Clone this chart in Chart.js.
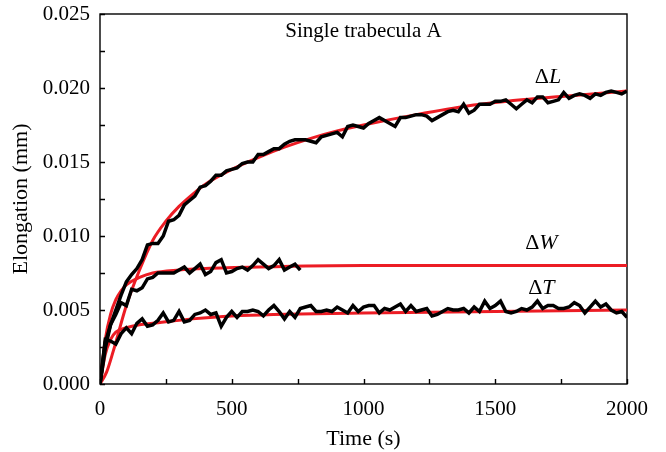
<!DOCTYPE html>
<html>
<head>
<meta charset="utf-8">
<script src="https://cdn.jsdelivr.net/npm/chart.js@4.4.0/dist/chart.umd.min.js"></script>
<style>
  html, body { margin: 0; padding: 0; background: #fff; }
</style>
</head>
<body>
<canvas id="chart" width="666" height="452"></canvas>
<script>
// recorded traces, one sample every 20 s starting at t = 0
const sampleStep = 20;
const lengthTrace = [
  0, 0.0024, 0.0040, 0.0050, 0.0060, 0.0069, 0.0074, 0.0078, 0.0084, 0.0094,
  0.0095, 0.0095, 0.0100, 0.0110, 0.0111, 0.0114, 0.0121, 0.0124, 0.0127, 0.0133,
  0.0134, 0.0137, 0.0141, 0.0141, 0.0144, 0.0145, 0.0146, 0.0149, 0.0150, 0.0150,
  0.0155, 0.0155, 0.0157, 0.0159, 0.0159, 0.0162, 0.0164, 0.0165, 0.0165, 0.0165,
  0.0164, 0.0163, 0.0167, 0.0168, 0.0169, 0.0170, 0.0167, 0.0174, 0.0175, 0.0174,
  0.0173, 0.0176, 0.0178, 0.0180, 0.0178, 0.0176, 0.0174, 0.0180, 0.0180, 0.0181,
  0.0182, 0.0182, 0.0181, 0.0178, 0.0180, 0.0182, 0.0184, 0.0185, 0.0184, 0.0189,
  0.0183, 0.0185, 0.0189, 0.0189, 0.0189, 0.0191, 0.0191, 0.0192, 0.0189, 0.0186,
  0.0189, 0.0192, 0.0190, 0.0194, 0.0194, 0.0190, 0.0191, 0.0192, 0.0197, 0.0193,
  0.0195, 0.0196, 0.0195, 0.0193, 0.0196, 0.0195, 0.0197, 0.0198, 0.0197, 0.0196,
  0.0198
];
const widthTrace = [
  0, 0.0028, 0.0040, 0.0047, 0.0055, 0.0053, 0.0064, 0.0063, 0.0065, 0.0071,
  0.0072, 0.0075, 0.0075, 0.0075, 0.0075, 0.0077, 0.0079, 0.0075, 0.0078, 0.0081,
  0.0074, 0.0076, 0.0082, 0.0084, 0.0075, 0.0076, 0.0078, 0.0079, 0.0077, 0.0080,
  0.0084, 0.0081, 0.0078, 0.0080, 0.0084, 0.0077, 0.0079, 0.0081, 0.0077
];
const thicknessTrace = [
  0, 0.0030, 0.0029, 0.0027, 0.0034, 0.0038, 0.0034, 0.0041, 0.0044, 0.0039,
  0.0040, 0.0043, 0.0048, 0.0042, 0.0043, 0.0049, 0.0042, 0.0043, 0.0047, 0.0048,
  0.0050, 0.0047, 0.0048, 0.0039, 0.0045, 0.0049, 0.0045, 0.0049, 0.0049, 0.0050,
  0.0049, 0.0046, 0.0050, 0.0053, 0.0049, 0.0044, 0.0049, 0.0045, 0.0051, 0.0052,
  0.0053, 0.0049, 0.0049, 0.0050, 0.0049, 0.0052, 0.0050, 0.0048, 0.0053, 0.0049,
  0.0052, 0.0053, 0.0053, 0.0048, 0.0051, 0.0050, 0.0052, 0.0054, 0.0049, 0.0053,
  0.0049, 0.0050, 0.0051, 0.0046, 0.0047, 0.0049, 0.0051, 0.0050, 0.0050, 0.0051,
  0.0048, 0.0052, 0.0049, 0.0056, 0.0051, 0.0053, 0.0056, 0.0049, 0.0048, 0.0049,
  0.0051, 0.0050, 0.0052, 0.0056, 0.0051, 0.0053, 0.0053, 0.0051, 0.0051, 0.0052,
  0.0055, 0.0053, 0.0048, 0.0052, 0.0056, 0.0052, 0.0054, 0.0050, 0.0048, 0.0049,
  0.0045
];

// fitted curves (red)
const lengthFitTime  = [0, 25, 50, 100, 150, 200, 250, 300, 350, 400, 500, 600, 700, 800, 900, 1000, 1200, 1400, 1600, 1800, 2000];
const lengthFitValue = [0, 0.0008, 0.0022, 0.0053, 0.0077, 0.0097, 0.0110, 0.0120, 0.0128, 0.0135, 0.0145, 0.0153, 0.0160, 0.0166, 0.0171, 0.0175, 0.0182, 0.0188, 0.0192, 0.0195, 0.0198];
const widthFitTime   = [0, 20, 40, 60, 80, 100, 150, 200, 300, 400, 600, 1000, 1500, 2000];
const widthFitValue  = [0, 0.0030, 0.0047, 0.0057, 0.0063, 0.0067, 0.0072, 0.0075, 0.0077, 0.0078, 0.0079, 0.0080, 0.0080, 0.0080];
const thickFitTime   = [0, 20, 40, 60, 100, 150, 200, 350, 500, 1000, 1500, 2000];
const thickFitValue  = [0, 0.0020, 0.0030, 0.0035, 0.0038, 0.0040, 0.0041, 0.0044, 0.0046, 0.0048, 0.0049, 0.0050];

// curve labels, placed in data units
const curveLabels = [
  { sym: 'L', t: 1700, v: 0.0207 },
  { sym: 'W', t: 1675, v: 0.0095 },
  { sym: 'T', t: 1675, v: 0.0065 }
];

const serif = '"Liberation Serif", "DejaVu Serif", serif';
const red = '#ec1c24';

const trace = arr => arr.map((v, i) => ({ x: i * sampleStep, y: v }));
const fit = (ts, vs) => ts.map((t, i) => ({ x: t, y: vs[i] }));

const blackLine = data => ({
  data, borderColor: '#000', borderWidth: 3.5, pointRadius: 0, tension: 0, order: 0
});
const redLine = data => ({
  data, borderColor: red, borderWidth: 3, pointRadius: 0, cubicInterpolationMode: 'monotone', order: 1
});

// box around the plot plus inward tick marks
const frame = {
  id: 'frame',
  beforeDatasetsDraw(chart) {
    const { ctx, chartArea: a, scales: { x, y } } = chart;
    ctx.save();
    ctx.strokeStyle = '#000';
    ctx.lineWidth = 1.4;
    ctx.strokeRect(a.left, a.top, a.right - a.left, a.bottom - a.top);
    ctx.beginPath();
    x.ticks.forEach(t => {
      const px = Math.round(x.getPixelForValue(t.value)) + 0.5;
      ctx.moveTo(px, a.bottom);
      ctx.lineTo(px, a.bottom - 5);
    });
    y.ticks.forEach(t => {
      const py = Math.round(y.getPixelForValue(t.value)) + 0.5;
      ctx.moveTo(a.left, py);
      ctx.lineTo(a.left + 5, py);
    });
    ctx.stroke();
    ctx.restore();
  },
  afterDraw(chart) {
    const { ctx, scales: { x, y } } = chart;
    ctx.save();
    ctx.fillStyle = '#000';
    ctx.textBaseline = 'middle';
    ctx.textAlign = 'center';
    ctx.font = '21px ' + serif;
    ctx.fillText('Single trabecula A', x.getPixelForValue(1000), y.getPixelForValue(0.0238));
    ctx.textAlign = 'left';
    curveLabels.forEach(l => {
      ctx.font = '22px ' + serif;
      const dw = ctx.measureText('\u0394').width;
      ctx.font = 'italic 22px ' + serif;
      const lw = ctx.measureText(l.sym).width;
      const x0 = x.getPixelForValue(l.t) - (dw + lw) / 2;
      const py = y.getPixelForValue(l.v);
      ctx.font = '22px ' + serif;
      ctx.fillText('\u0394', x0, py);
      ctx.font = 'italic 22px ' + serif;
      ctx.fillText(l.sym, x0 + dw, py);
    });
    ctx.restore();
  }
};

new Chart(document.getElementById('chart'), {
  type: 'line',
  data: {
    datasets: [
      blackLine(trace(lengthTrace)),
      blackLine(trace(widthTrace)),
      blackLine(trace(thicknessTrace)),
      redLine(fit(lengthFitTime, lengthFitValue)),
      redLine(fit(widthFitTime, widthFitValue)),
      redLine(fit(thickFitTime, thickFitValue))
    ]
  },
  options: {
    responsive: false,
    animation: false,
    devicePixelRatio: 1,
    layout: { padding: { top: 14, right: 39, left: 0, bottom: 0 } },
    plugins: { legend: { display: false }, tooltip: { enabled: false } },
    scales: {
      x: {
        type: 'linear',
        min: 0,
        max: 2000,
        grid: { display: false, drawTicks: false },
        border: { display: false },
        ticks: {
          stepSize: 250,
          autoSkip: false,
          maxRotation: 0,
          padding: 13,
          color: '#000',
          font: { family: serif, size: 21 },
          callback: v => (v % 500 === 0 ? String(v) : '')
        },
        title: {
          display: true,
          text: 'Time (s)',
          color: '#000',
          font: { family: serif, size: 22 },
          padding: { top: 0, bottom: 0 }
        },
        afterFit: s => { s.height = 68; s.paddingLeft = 0; s.paddingRight = 0; }
      },
      y: {
        min: 0,
        max: 0.025,
        grid: { display: false, drawTicks: false },
        border: { display: false },
        ticks: {
          stepSize: 0.0025,
          autoSkip: false,
          padding: 10,
          color: '#000',
          font: { family: serif, size: 21 },
          callback: v => (Math.round(v / 0.0025) % 2 === 0 ? v.toFixed(3) : '')
        },
        title: {
          display: true,
          text: 'Elongation (mm)',
          color: '#000',
          font: { family: serif, size: 22 },
          padding: { top: 8, bottom: 0 }
        },
        afterFit: s => { s.width = 100; s.paddingTop = 0; s.paddingBottom = 0; }
      }
    }
  },
  plugins: [frame]
});
</script>
</body>
</html>
